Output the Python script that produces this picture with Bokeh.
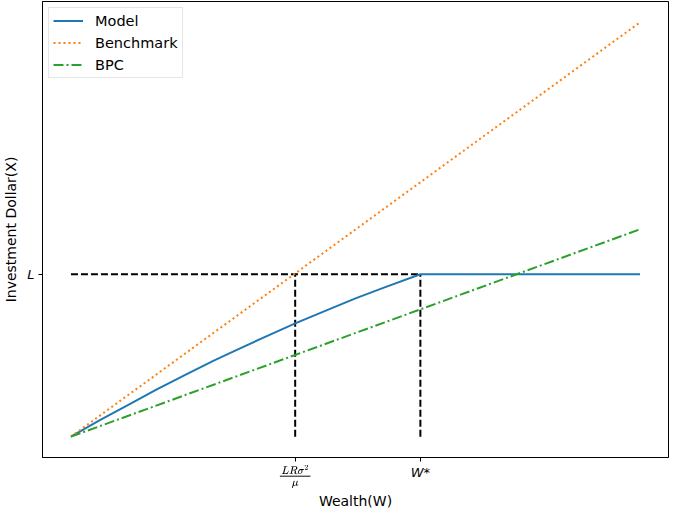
from bokeh.plotting import figure
from bokeh.models import Range1d, FixedTicker, TeX
from bokeh.embed import file_html
from bokeh.resources import INLINE

# ---- data ----
W_model = [0, 5, 10, 15, 20, 25, 30, 35, 39.4, 45, 50, 55, 61.4, 100]
X_model = [0, 3.9, 7.6, 11.3, 14.8, 18.2, 21.4, 24.5, 27.2, 30.4, 33.2, 35.8, 39.0, 39.0]
W_line = [0, 100]
X_benchmark = [0, 99.5]
X_bpc = [0, 49.8]
L_level = 39.0
W_threshold = 39.4   # L R sigma^2 / mu
W_star = 61.4

p = figure(width=669, height=512, output_backend="svg", toolbar_location=None,
           x_range=Range1d(-5, 105), y_range=Range1d(-5, 104.5),
           min_border_left=42, min_border_right=1, min_border_top=1, min_border_bottom=48)

p.background_fill_color = "white"
p.border_fill_color = "white"
p.outline_line_color = "black"
p.outline_line_width = 1
p.xgrid.visible = False
p.ygrid.visible = False

FONT = "DejaVu Sans"

# dashed guides
p.line([0, W_star], [L_level, L_level], line_color="black", line_width=2, line_dash="7 3")
p.line([W_threshold, W_threshold], [0, L_level], line_color="black", line_width=2, line_dash="7 3")
p.line([W_star, W_star], [0, L_level], line_color="black", line_width=2, line_dash="7 3")

p.line(W_model, X_model, line_color="#1f77b4", line_width=2, legend_label="Model")
p.line(W_line, X_benchmark, line_color="#ff7f0e", line_width=2, line_dash="2 3", legend_label="Benchmark")
p.line(W_line, X_bpc, line_color="#2ca02c", line_width=2, line_dash="10 3 2 3", legend_label="BPC")

# axes
p.xaxis.ticker = FixedTicker(ticks=[W_threshold, W_star])
p.xaxis.major_label_overrides = {W_threshold: TeX(r"\tfrac{LR\sigma^2}{\mu}"), W_star: "W*"}
p.yaxis.ticker = FixedTicker(ticks=[L_level])
p.yaxis.major_label_overrides = {L_level: "L"}
for ax in (p.xaxis, p.yaxis):
    ax.minor_tick_line_color = None
    ax.major_tick_out = 4
    ax.major_tick_in = 0
    ax.axis_line_color = "black"
    ax.major_tick_line_color = "black"
    ax.major_label_text_font = FONT
    ax.major_label_text_font_size = "13px"
    ax.major_label_text_font_style = "italic"
    ax.major_label_text_color = "black"
    ax.axis_label_text_font = FONT
    ax.axis_label_text_font_size = "14px"
    ax.axis_label_text_font_style = "normal"
    ax.axis_label_text_color = "black"
p.xaxis.axis_label = "Wealth(W)"
p.yaxis.axis_label = "Investment Dollar(X)"
p.xaxis.major_label_standoff = 3
p.xaxis.axis_label_standoff = 2
p.yaxis.axis_label_standoff = 5
p.yaxis.major_label_standoff = 4

# legend
lg = p.legend[0]
lg.location = "top_left"
lg.margin = 6
lg.padding = 4
lg.spacing = 5
lg.glyph_width = 30
lg.label_standoff = 12
lg.label_height = 17
lg.glyph_height = 17
lg.label_text_font = FONT
lg.label_text_font_size = "14.5px"
lg.label_text_color = "black"
lg.border_line_color = "#cccccc"
lg.border_line_width = 1
lg.background_fill_alpha = 0.8

open("out.html", "w").write(file_html(p, INLINE))
